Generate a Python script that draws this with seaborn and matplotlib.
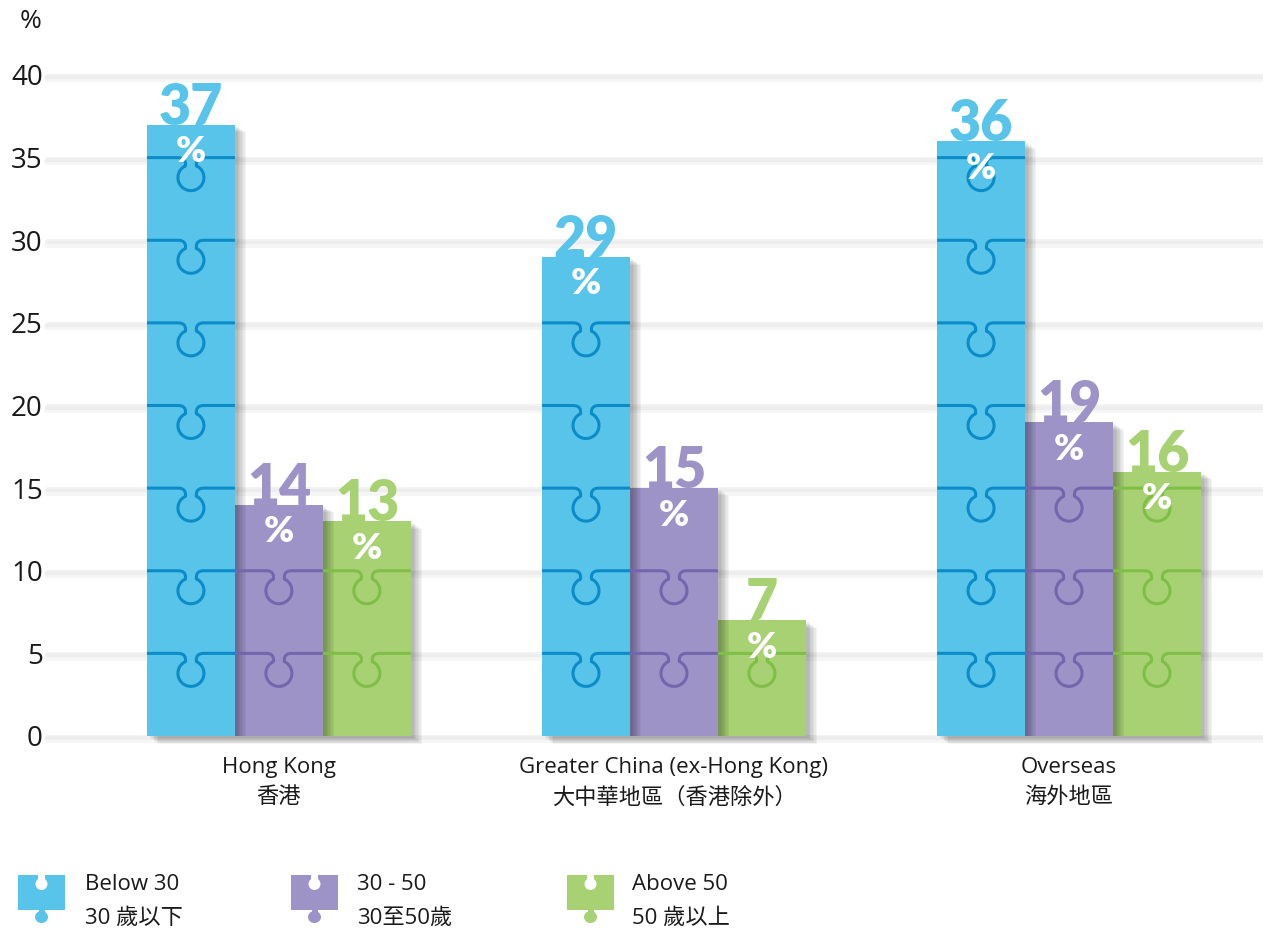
import numpy as np
import pandas as pd
import matplotlib
matplotlib.use("Agg")
import matplotlib.pyplot as plt
import seaborn as sns
from matplotlib import patheffects as pe
from matplotlib.patches import Rectangle, Ellipse

# ---------------- data ----------------
regions = ["Hong Kong\n香港",
           "Greater China (ex-Hong Kong)\n大中華地區（香港除外）",
           "Overseas\n海外地區"]
age_en = ["Below 30", "30 - 50", "Above 50"]
age_zh = ["30 歲以下", "30至50歲", "50 歲以上"]
below_30 = [37, 29, 36]
age_30_50 = [14, 15, 19]
above_50 = [13, 7, 16]
y_ticks = [0, 5, 10, 15, 20, 25, 30, 35, 40]

bar_colors = ["#58c4ea", "#9d93c7", "#a8d174"]
line_colors = ["#0b8cc8", "#7466ae", "#7fbe47"]

df = pd.DataFrame({
    "region": regions * 3,
    "age": np.repeat(age_en, 3),
    "value": below_30 + age_30_50 + above_50,
})

# ---------------- style ----------------
sns.set_style("white")
plt.rcParams["font.family"] = ["Open Sans", "Noto Sans CJK TC", "DejaVu Sans"]

W, H = 1263, 932
fig = plt.figure(figsize=(W / 100, H / 100), dpi=100)
ax_l, ax_r, ax_t, ax_b = 47, 1263, 75, 736
ax = fig.add_axes([ax_l / W, (H - ax_b) / H, (ax_r - ax_l) / W, (ax_b - ax_t) / H])

sns.barplot(data=df, x="region", y="value", hue="age", order=regions,
            hue_order=age_en, palette=bar_colors, width=0.668, saturation=1,
            errorbar=None, legend=False, ax=ax)

xmin, xmax = -0.587, 2.491
ax.set_xlim(xmin, xmax)
ax.set_ylim(0, 40)
px_x = (xmax - xmin) / (ax_r - ax_l)
px_y = 40 / (ax_b - ax_t)

# grid lines with soft shadow
for yv in y_ticks:
    ax.axhline(yv, color="#f0f0f0", lw=1.2, zorder=1, clip_on=False,
               path_effects=[pe.SimpleLineShadow(offset=(0, -2.5), shadow_color="k",
                                                 alpha=0.035, linewidth=5),
                             pe.SimpleLineShadow(offset=(0, -1.5), shadow_color="k",
                                                 alpha=0.035, linewidth=3),
                             pe.Normal()])

# knob shape (pixel units relative to line centre)
t = np.linspace(0, 1, 14)
P0, P1, P2 = np.array([-13.0, 0]), np.array([-4.5, 0]), np.array([-5.5, -8.2])
neck = ((1 - t) ** 2)[:, None] * P0 + (2 * (1 - t) * t)[:, None] * P1 + (t ** 2)[:, None] * P2
ang = np.deg2rad(np.linspace(114.6, 425.4, 70))
circ = np.column_stack([13 * np.cos(ang), -20 + 13 * np.sin(ang)])
neck_r = (neck * np.array([-1, 1]))[::-1]
knob = np.vstack([neck, circ, neck_r])

shadow = [pe.SimplePatchShadow(offset=(o, -0.7 * o), shadow_rgbFace="k", alpha=0.045)
          for o in (8, 7, 6, 5, 4, 3, 2)] + [pe.Normal()]

for i, cont in enumerate(ax.containers):
    for bar in cont:
        bar.set_zorder(3.3 - 0.1 * i)
        bar.set_clip_on(False)
        bar.set_linewidth(0)
        bar.set_path_effects(shadow)
        x0, w, h = bar.get_x(), bar.get_width(), bar.get_height()
        xc = x0 + w / 2
        for lvl in y_ticks[1:]:
            if lvl < h - 0.5:
                xs = np.concatenate([[x0], xc + knob[:, 0] * px_x, [x0 + w]])
                ys = np.concatenate([[lvl], lvl + knob[:, 1] * px_y, [lvl]])
                ax.plot(xs, ys, color=line_colors[i], lw=2.2, zorder=5,
                        solid_joinstyle="round", solid_capstyle="butt")
        ax.text(xc, h, f"{int(round(h))}", ha="center", va="baseline",
                color=bar_colors[i], fontsize=40, fontweight="heavy",
                family=["Lato", "DejaVu Sans"], zorder=6)
        ax.text(xc, h - 27 * px_y, "%", ha="center", va="center", color="white",
                fontsize=26, fontweight="heavy", family=["Lato", "DejaVu Sans"], zorder=7)

for s in ax.spines.values():
    s.set_visible(False)
ax.set_yticks(y_ticks)
ax.set_yticklabels([str(v) for v in y_ticks])
ax.tick_params(axis="y", length=0, pad=3, labelsize=20, labelcolor="#1a1a1a")
ax.tick_params(axis="x", length=0, pad=15, labelsize=16, labelcolor="#1a1a1a")
for lab in ax.get_xticklabels():
    lab.set_linespacing(1.6)
ax.set_xlabel("")
ax.set_ylabel("")

fig.text(31 / W, 1 - 22 / H, "%", ha="center", va="center", fontsize=19,
         color="#1a1a1a")

# ---------------- legend ----------------
def fx(px):
    return px / W

def fy(py):
    return 1 - py / H

icon_x = [18, 291, 567]
text_x = [85, 357, 632]
for i in range(3):
    x = icon_x[i]
    c = bar_colors[i]
    fig.add_artist(Rectangle((fx(x), fy(910)), 47 / W, 35 / H, transform=fig.transFigure,
                             facecolor=c, edgecolor="none"))
    # top notch
    fig.add_artist(Rectangle((fx(x + 23.5 - 3.5), fy(881)), 7 / W, 7 / H,
                             transform=fig.transFigure, facecolor="white", edgecolor="none"))
    fig.add_artist(Ellipse((fx(x + 23.5), fy(884)), 12 / W, 12 / H,
                           transform=fig.transFigure, facecolor="white", edgecolor="none"))
    # bottom knob
    fig.add_artist(Rectangle((fx(x + 23.5 - 3), fy(914)), 6 / W, 5 / H,
                             transform=fig.transFigure, facecolor=c, edgecolor="none"))
    fig.add_artist(Ellipse((fx(x + 23.5), fy(917)), 13 / W, 12 / H,
                           transform=fig.transFigure, facecolor=c, edgecolor="none"))
    fig.text(fx(text_x[i]), fy(885), age_en[i], ha="left", va="center",
             fontsize=16, color="#1a1a1a")
    fig.text(fx(text_x[i]), fy(918), age_zh[i], ha="left", va="center",
             fontsize=16, color="#1a1a1a")

fig.savefig("out.png", dpi=100)
